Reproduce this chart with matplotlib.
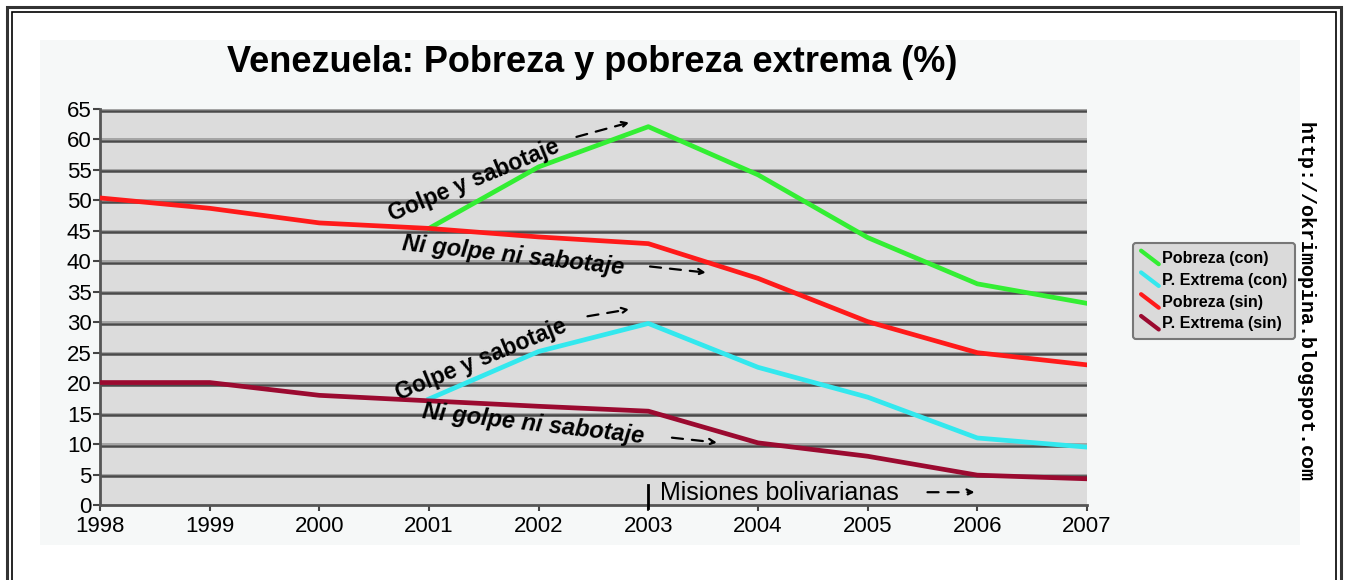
import matplotlib.pyplot as plt
from matplotlib.lines import Line2D
from matplotlib.legend_handler import HandlerBase
from matplotlib.patches import Rectangle

years = [1998, 1999, 2000, 2001, 2002, 2003, 2004, 2005, 2006, 2007]
years_con = [2001, 2002, 2003, 2004, 2005, 2006, 2007]

pobreza_con = [45.4, 55.5, 62.1, 54.2, 43.9, 36.3, 33.1]
extrema_con = [17.4, 25.2, 29.8, 22.6, 17.7, 11.0, 9.5]
pobreza_sin = [50.4, 48.7, 46.3, 45.4, 44.0, 42.9, 37.2, 30.1, 25.0, 23.0]
extrema_sin = [20.1, 20.1, 18.0, 17.1, 16.2, 15.4, 10.2, 8.0, 4.9, 4.3]

series_labels = ['Pobreza (con)', 'P. Extrema (con)', 'Pobreza (sin)', 'P. Extrema (sin)']
colors = ['#33ee33', '#33e8ee', '#ff1a1a', '#9b0a30']

plt.rcParams['font.family'] = ['Liberation Sans', 'DejaVu Sans']


class DiagHandler(HandlerBase):
    # líneas diagonales en la leyenda, como en el original
    def create_artists(self, legend, orig_handle, xdescent, ydescent,
                       width, height, fontsize, trans):
        x0, y0 = -xdescent, -ydescent
        ln = Line2D([x0, x0 + width], [y0 + height * 1.1, y0 - height * 0.1],
                    color=orig_handle.get_color(), lw=3, solid_capstyle='round')
        ln.set_transform(trans)
        return [ln]


fig = plt.figure(figsize=(13.48, 5.80), dpi=100)
fig.patch.set_facecolor('white')

# fondo punteado claro y marco doble
fig.patches.append(Rectangle((40 / 1348, 1 - 545 / 580), 1260 / 1348, 505 / 580,
                             transform=fig.transFigure, facecolor='#f6f8f8',
                             edgecolor='none', zorder=-1))
fig.patches.append(Rectangle((7 / 1348, -0.05), 1334 / 1348, 1 - 7 / 580 + 0.05,
                             transform=fig.transFigure, fill=False,
                             edgecolor='#333333', lw=2.2, zorder=5))
fig.patches.append(Rectangle((12 / 1348, -0.05), 1324 / 1348, 1 - 12 / 580 + 0.05,
                             transform=fig.transFigure, fill=False,
                             edgecolor='black', lw=1.2, zorder=5))

ax = fig.add_axes([100 / 1348, 1 - 505 / 580, 987 / 1348, 396 / 580])
ax.set_zorder(1)
ax.set_facecolor('#dcdcdc')

for y in range(5, 70, 5):
    ax.axhline(y, color='#9a9a9a', lw=1.2, zorder=1)
    ax.plot([1998, 2007], [y - 0.25, y - 0.25], color='#4a4a4a', lw=1.8, zorder=1)

ax.plot(years_con, pobreza_con, color=colors[0], lw=3.4, label=series_labels[0], zorder=3)
ax.plot(years_con, extrema_con, color=colors[1], lw=3.4, label=series_labels[1], zorder=3)
ax.plot(years, pobreza_sin, color=colors[2], lw=3.4, label=series_labels[2], zorder=3)
ax.plot(years, extrema_sin, color=colors[3], lw=3.4, label=series_labels[3], zorder=3)

ax.set_xlim(1998, 2007)
ax.set_ylim(0, 65)
ax.set_xticks(years)
ax.set_yticks(range(0, 70, 5))
ax.tick_params(axis='both', labelsize=16, colors='#444444', labelcolor='black', width=1.5)
ax.tick_params(axis='y', length=5, pad=1)
ax.tick_params(axis='x', length=4, pad=4, direction='out')
for s in ['top', 'right']:
    ax.spines[s].set_visible(False)
for s in ['left', 'bottom']:
    ax.spines[s].set_color('#555555')
    ax.spines[s].set_linewidth(2)

# anotaciones
txt_kw = dict(fontweight='bold', ha='center', va='center',
              rotation_mode='anchor', zorder=4)
arrow_kw = dict(arrowstyle='->', linestyle=(0, (5, 4)), color='black', lw=1.6)

ax.text(2001.41, 53.3, 'Golpe y sabotaje', rotation=22.5, fontsize=16.5, **txt_kw)
ax.annotate('', xy=(2002.85, 62.9), xytext=(2002.32, 60.3), arrowprops=arrow_kw)
ax.text(2001.77, 40.9, 'Ni golpe ni sabotaje', rotation=-6.3, style='italic',
        fontsize=17, **txt_kw)
ax.annotate('', xy=(2003.55, 38.1), xytext=(2002.99, 39.2), arrowprops=arrow_kw)

ax.text(2001.48, 23.8, 'Golpe y sabotaje', rotation=22.3, fontsize=16.5, **txt_kw)
ax.annotate('', xy=(2002.85, 32.2), xytext=(2002.42, 30.9), arrowprops=arrow_kw)
ax.text(2001.95, 13.3, 'Ni golpe ni sabotaje', rotation=-6.5, style='italic',
        fontsize=17, **txt_kw)
ax.annotate('', xy=(2003.65, 10.2), xytext=(2003.19, 11.1), arrowprops=arrow_kw)

ax.plot([2003, 2003], [-0.5, 3.3], color='black', lw=2, clip_on=False, zorder=4)
ax.text(2003.11, 1.9, 'Misiones bolivarianas', fontsize=18, ha='left', va='center', zorder=4)
ax.annotate('', xy=(2006.0, 2.1), xytext=(2005.52, 2.1), arrowprops=arrow_kw)

fig.text(592 / 1348, 1 - 62 / 580, 'Venezuela: Pobreza y pobreza extrema (%)',
         fontsize=26, fontweight='bold', ha='center', va='center')

fig.text(1305 / 1348, 1 - 302 / 580, 'http://okrimopina.blogspot.com',
         rotation=-90, ha='center', va='center', fontsize=14.4, fontweight='bold',
         family=['Liberation Mono', 'DejaVu Sans Mono'])

handles = [Line2D([], [], color=c) for c in colors]
leg = fig.legend(handles, series_labels, loc='upper left',
                 bbox_to_anchor=(1133 / 1348, 1 - 243 / 580), borderaxespad=0,
                 handler_map={Line2D: DiagHandler()},
                 prop={'size': 11.6, 'weight': 'bold'},
                 handlelength=1.1, handletextpad=0.2, labelspacing=0.42,
                 borderpad=0.5, fancybox=True, framealpha=1)
leg.get_frame().set_facecolor('#dadada')
leg.get_frame().set_edgecolor('#777777')
leg.get_frame().set_linewidth(1.5)

fig.savefig('out.png', dpi=100)
